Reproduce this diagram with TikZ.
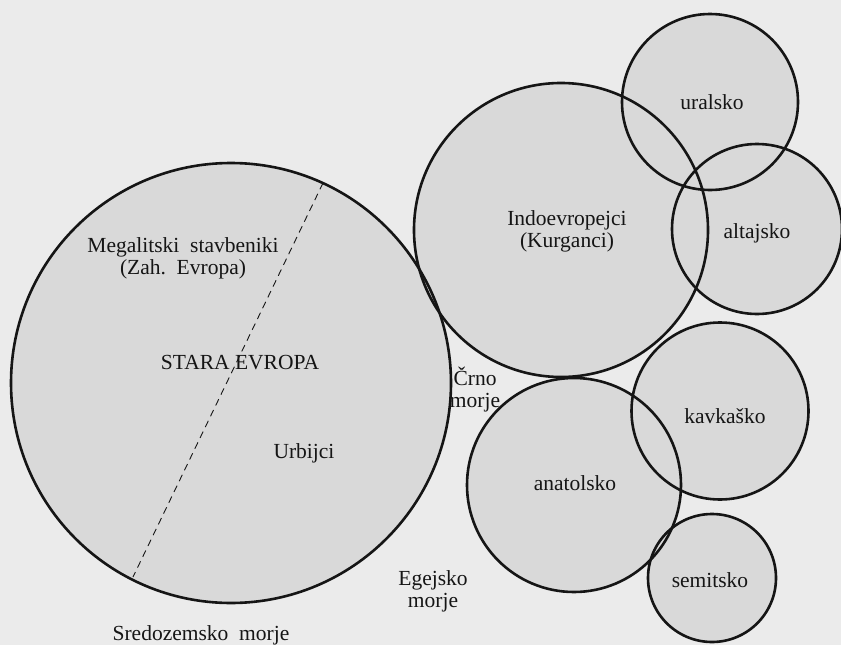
\documentclass[tikz,border=0pt]{standalone}
\usepackage{fontspec}
\setmainfont{Liberation Serif}
\usetikzlibrary{backgrounds}
\definecolor{pagebg}{HTML}{EBEBEB}
\definecolor{regfill}{HTML}{D9D9D9}
\definecolor{ink}{HTML}{151515}
\tikzset{
  region/.style={circle, inner sep=0pt, draw=ink, line width=2.6pt},
  lbl/.style={inner sep=0pt, align=center, text=ink, font=\fontsize{21.5}{22}\selectfont},
  divider/.style={draw=ink, line width=0.9pt, dash pattern=on 7pt off 5pt}
}
\begin{document}
\begin{tikzpicture}[x=1pt,y=-1pt]
\useasboundingbox (0,0) rectangle (841,645);
% regions
\node[region, minimum size=440pt] (se) at (231,383) {};
\node[region, minimum size=294pt] (ie) at (561,230) {};
\node[region, minimum size=176pt] (ur) at (710,102) {};
\node[region, minimum size=170pt] (al) at (757,229) {};
\node[region, minimum size=177pt] (kv) at (720,411) {};
\node[region, minimum size=214pt] (an) at (574,485) {};
\node[region, minimum size=128pt] (sm) at (712,578) {};
\begin{pgfonlayer}{background}
  \fill[pagebg] (0,0) rectangle (841,645);
  \fill[regfill] (se.center) circle[radius=220pt];
  \fill[regfill] (ie.center) circle[radius=147pt];
  \fill[regfill] (ur.center) circle[radius=88pt];
  \fill[regfill] (al.center) circle[radius=85pt];
  \fill[regfill] (kv.center) circle[radius=88.5pt];
  \fill[regfill] (an.center) circle[radius=107pt];
  \fill[regfill] (sm.center) circle[radius=64pt];
\end{pgfonlayer}
% dashed divider inside Stara Evropa
\coordinate (dtop) at (323,183);
\coordinate (dbot) at (133,577);
\draw[divider] (dtop) -- (dbot);
% labels
\node[lbl] (megal) at (183,258) {Megalitski\ \ stavbeniki\\(Zah.\ \ Evropa)};
\node[lbl] (stara) at (240,363) {STARA EVROPA};
\node[lbl] (urb) at (304,453) {Urbijci};
\node[lbl] (indo) at (567,231) {Indoevropejci\\(Kurganci)};
\node[lbl] (url) at (712,102) {uralsko};
\node[lbl] (alt) at (757,233) {altajsko};
\node[lbl] (kav) at (725,416) {kavkaško};
\node[lbl] (ana) at (575,483) {anatolsko};
\node[lbl] (sem) at (710,580) {semitsko};
\node[lbl] (crno) at (475,390) {Črno\\morje};
\node[lbl] (ege) at (433,591) {Egejsko\\morje};
\node[lbl] (sred) at (201,635) {Sredozemsko\ \ morje};
\end{tikzpicture}
\end{document}
